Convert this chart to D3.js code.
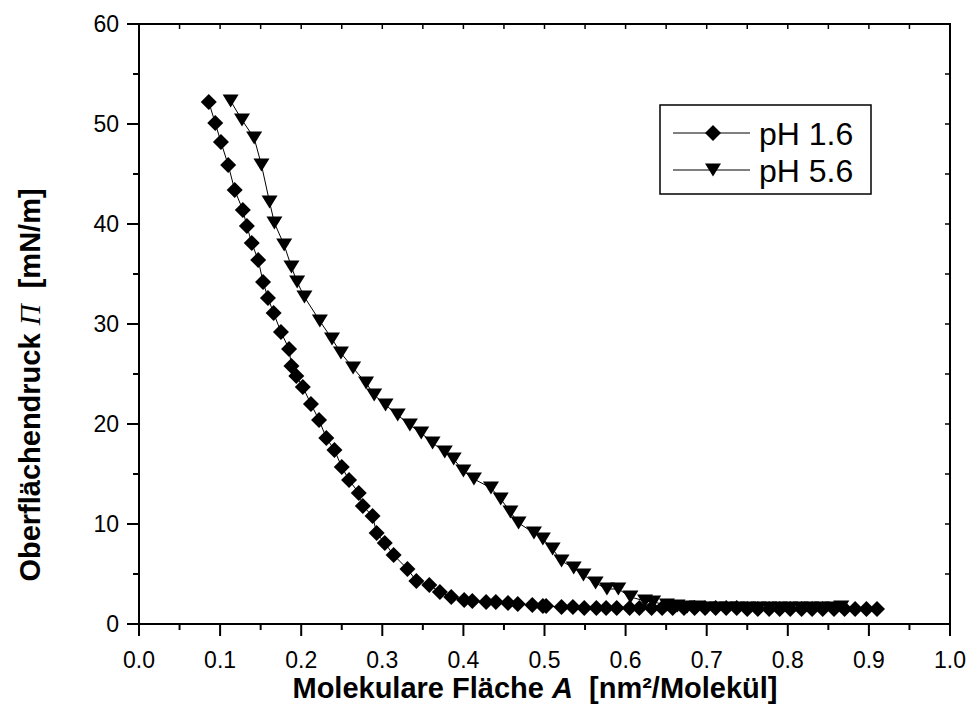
<!DOCTYPE html>
<html>
<head>
<meta charset="utf-8">
<script src="https://cdn.jsdelivr.net/npm/d3@7"></script>
<style>
  body { margin: 0; background: #fff; }
  svg text { font-family: "Liberation Sans", Arial, sans-serif; fill: #000; }
</style>
</head>
<body>
<div id="chart"></div>
<script>
// pH 1.6 (diamonds)
const areaPh16 = [0.086, 0.094, 0.101, 0.110, 0.118, 0.128, 0.133, 0.139, 0.147, 0.153, 0.159, 0.166,
  0.175, 0.185, 0.188, 0.194, 0.202, 0.212, 0.222, 0.231, 0.241, 0.250, 0.259, 0.271, 0.276, 0.288,
  0.293, 0.303, 0.314, 0.331, 0.342, 0.358, 0.371, 0.385, 0.401, 0.411, 0.428, 0.440, 0.455, 0.467,
  0.485, 0.498, 0.502, 0.521, 0.535, 0.549, 0.564, 0.576, 0.589, 0.605, 0.617, 0.632, 0.645, 0.658,
  0.672, 0.685, 0.698, 0.711, 0.724, 0.737, 0.750, 0.763, 0.777, 0.790, 0.803, 0.817, 0.830, 0.843,
  0.857, 0.870, 0.883, 0.897, 0.910];
const pressPh16 = [52.2, 50.1, 48.2, 45.9, 43.4, 41.4, 39.8, 38.1, 36.4, 34.2, 32.6, 31.1,
  29.2, 27.5, 25.8, 24.8, 23.7, 22.0, 20.4, 18.6, 17.4, 15.7, 14.4, 13.1, 11.8, 10.8,
  9.1, 8.1, 6.9, 5.5, 4.3, 3.9, 3.2, 2.7, 2.4, 2.3, 2.2, 2.2, 2.1, 2.0,
  1.9, 1.8, 1.8, 1.7, 1.7, 1.6, 1.6, 1.6, 1.6, 1.6, 1.6, 1.6, 1.6, 1.6,
  1.6, 1.6, 1.6, 1.6, 1.6, 1.6, 1.5, 1.5, 1.5, 1.5, 1.5, 1.5, 1.5, 1.5,
  1.5, 1.5, 1.5, 1.5, 1.5];

// pH 5.6 (triangles)
const areaPh56 = [0.113, 0.127, 0.142, 0.151, 0.161, 0.167, 0.179, 0.188, 0.195, 0.204, 0.223, 0.238,
  0.249, 0.264, 0.280, 0.290, 0.304, 0.319, 0.334, 0.348, 0.362, 0.377, 0.388, 0.400, 0.413, 0.434,
  0.446, 0.458, 0.468, 0.487, 0.498, 0.510, 0.521, 0.536, 0.548, 0.563, 0.577, 0.591, 0.606, 0.624,
  0.634, 0.651, 0.664, 0.676, 0.688, 0.700, 0.712, 0.725, 0.738, 0.751, 0.764, 0.777, 0.790, 0.803,
  0.816, 0.829, 0.842, 0.855, 0.866];
const pressPh56 = [52.3, 50.4, 48.6, 45.9, 42.2, 40.1, 37.9, 35.7, 34.2, 32.7, 30.3, 28.5,
  27.1, 25.6, 24.1, 22.9, 21.9, 20.9, 19.9, 19.1, 18.1, 17.2, 16.5, 15.3, 14.5, 13.6,
  12.5, 11.2, 10.1, 9.1, 8.5, 7.5, 6.3, 5.6, 4.9, 4.1, 3.5, 3.5, 2.7, 2.3,
  2.2, 1.9, 1.8, 1.7, 1.7, 1.6, 1.6, 1.6, 1.6, 1.6, 1.6, 1.6, 1.6, 1.6,
  1.6, 1.6, 1.6, 1.6, 1.7];

const xTicks = [0, 0.1, 0.2, 0.3, 0.4, 0.5, 0.6, 0.7, 0.8, 0.9, 1.0];
const yTicks = [0, 10, 20, 30, 40, 50, 60];
const seriesNames = ['pH 1.6', 'pH 5.6'];

const width = 970, height = 720;
const margin = { top: 24, right: 20, bottom: 96, left: 139 };

const svg = d3.select('#chart').append('svg')
  .attr('width', width)
  .attr('height', height);

const x = d3.scaleLinear().domain([0, 1]).range([margin.left, width - margin.right]);
const y = d3.scaleLinear().domain([0, 60]).range([height - margin.bottom, margin.top]);

const minorX = d3.range(0, 1.0001, 0.05);
const minorY = d3.range(0, 60.001, 5);

// frame
svg.append('rect')
  .attr('x', x(0)).attr('y', y(60))
  .attr('width', x(1) - x(0)).attr('height', y(0) - y(60))
  .attr('fill', 'none').attr('stroke', '#000').attr('stroke-width', 2);

// outer ticks on bottom and left
const bottomAxis = svg.append('g').attr('transform', `translate(0,${y(0)})`);
bottomAxis.selectAll('line').data(minorX).enter().append('line')
  .attr('x1', d => x(d)).attr('x2', d => x(d))
  .attr('y1', 0).attr('y2', d => xTicks.some(t => Math.abs(t - d) < 1e-6) ? 12 : 6)
  .attr('stroke', '#000').attr('stroke-width', 2);
bottomAxis.selectAll('text').data(xTicks).enter().append('text')
  .attr('x', d => x(d)).attr('y', 44)
  .attr('text-anchor', 'middle')
  .style('font-size', '23px')
  .text(d3.format('.1f'));

const leftAxis = svg.append('g').attr('transform', `translate(${x(0)},0)`);
leftAxis.selectAll('line').data(minorY).enter().append('line')
  .attr('y1', d => y(d)).attr('y2', d => y(d))
  .attr('x1', 0).attr('x2', d => d % 10 === 0 ? -12 : -6)
  .attr('stroke', '#000').attr('stroke-width', 2);
leftAxis.selectAll('text').data(yTicks).enter().append('text')
  .attr('x', -20).attr('y', d => y(d))
  .attr('dy', '0.35em')
  .attr('text-anchor', 'end')
  .style('font-size', '23px')
  .text(d => d);

// small inward ticks on top and right
svg.append('g').selectAll('line').data(minorX).enter().append('line')
  .attr('x1', d => x(d)).attr('x2', d => x(d))
  .attr('y1', y(60)).attr('y2', y(60) + 5)
  .attr('stroke', '#000').attr('stroke-width', 1.5);
svg.append('g').selectAll('line').data(minorY).enter().append('line')
  .attr('y1', d => y(d)).attr('y2', d => y(d))
  .attr('x1', x(1)).attr('x2', x(1) - 5)
  .attr('stroke', '#000').attr('stroke-width', 1.5);

// markers
const diamond = (cx, cy, r) => `M${cx},${cy - r}L${cx + r},${cy}L${cx},${cy + r}L${cx - r},${cy}Z`;
const triDown = (cx, cy, w, h) => `M${cx - w / 2},${cy - h / 2}L${cx + w / 2},${cy - h / 2}L${cx},${cy + h / 2}Z`;

const line = d3.line().x(d => x(d[0])).y(d => y(d[1]));
const ph16 = areaPh16.map((a, i) => [a, pressPh16[i]]);
const ph56 = areaPh56.map((a, i) => [a, pressPh56[i]]);

svg.append('path').datum(ph16).attr('d', line)
  .attr('fill', 'none').attr('stroke', '#000').attr('stroke-width', 1);
svg.append('path').datum(ph56).attr('d', line)
  .attr('fill', 'none').attr('stroke', '#000').attr('stroke-width', 1);

svg.append('g').selectAll('path').data(ph16).enter().append('path')
  .attr('d', d => diamond(x(d[0]), y(d[1]), 8))
  .attr('fill', '#000');
svg.append('g').selectAll('path').data(ph56).enter().append('path')
  .attr('d', d => triDown(x(d[0]), y(d[1]), 16, 13))
  .attr('fill', '#000');

// legend
const legend = svg.append('g');
legend.append('rect')
  .attr('x', 660).attr('y', 105).attr('width', 211).attr('height', 89)
  .attr('fill', '#fff').attr('stroke', '#000').attr('stroke-width', 1.5);
const rows = [133, 170];
rows.forEach((ry, i) => {
  legend.append('line').attr('x1', 673).attr('x2', 750).attr('y1', ry).attr('y2', ry)
    .attr('stroke', '#000').attr('stroke-width', 1);
  legend.append('path')
    .attr('d', i === 0 ? diamond(713, ry, 8) : triDown(713, ry, 16, 13))
    .attr('fill', '#000');
  legend.append('text').attr('x', 759).attr('y', ry).attr('dy', '0.36em')
    .style('font-size', '32px').text(seriesNames[i]);
});

// axis titles
const xTitle = svg.append('text')
  .attr('x', 535).attr('y', 698)
  .attr('text-anchor', 'middle')
  .style('font-size', '29px').style('font-weight', 'bold');
xTitle.append('tspan').text('Molekulare Fläche ');
xTitle.append('tspan').style('font-style', 'italic').text('A');
xTitle.append('tspan').attr('xml:space', 'preserve').text('  [nm²/Molekül]');

const yTitle = svg.append('text')
  .attr('transform', 'translate(40,385) rotate(-90)')
  .attr('text-anchor', 'middle')
  .style('font-size', '29px').style('font-weight', 'bold');
yTitle.append('tspan').text('Oberflächendruck ');
yTitle.append('tspan')
  .style('font-family', '"Liberation Serif", "DejaVu Serif", serif')
  .style('font-style', 'italic').style('font-weight', 'normal')
  .text('Π');
yTitle.append('tspan').attr('xml:space', 'preserve').text('  [mN/m]');
</script>
</body>
</html>
